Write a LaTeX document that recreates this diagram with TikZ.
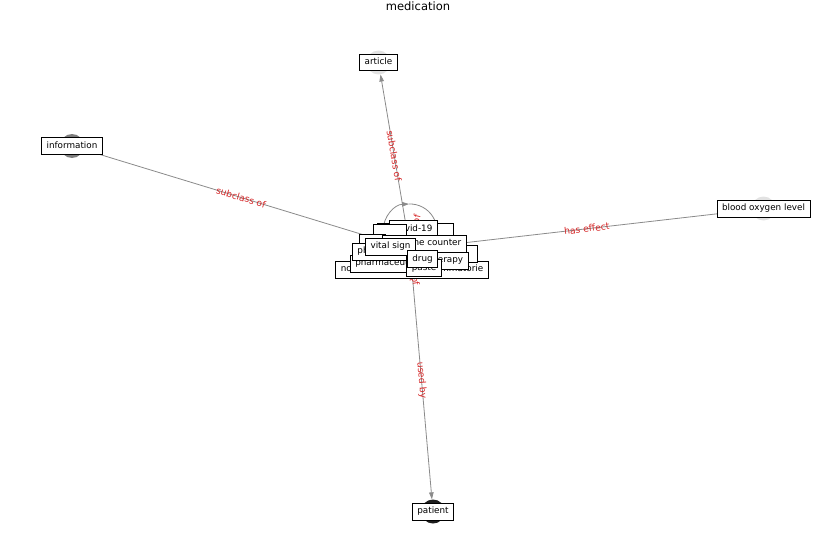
\documentclass[tikz,border=0pt]{standalone}
\usepackage{fontspec}
\setmainfont{DejaVu Sans}
\usetikzlibrary{arrows.meta}

\definecolor{edgegray}{RGB}{138,138,138}
\definecolor{lblred}{RGB}{214,39,40}
\definecolor{dotlight}{RGB}{226,226,226}
\definecolor{dotmid}{RGB}{125,125,125}
\definecolor{dotdark}{RGB}{28,28,28}

\tikzset{
  lbox/.style={draw=black, fill=white, line width=0.8pt, inner xsep=5pt, inner ysep=4pt,
    text height=6.8pt, text depth=2pt, font=\fontsize{8.8}{10}\selectfont},
  dot/.style={circle, inner sep=0pt, minimum size=24pt},
  rel/.style={draw=edgegray, line width=0.8pt, -{Triangle[length=7pt,width=4.5pt]}},
  rellabel/.style={text=lblred, font=\fontsize{9.2}{10}\selectfont, sloped, inner sep=1pt},
  fragment/.style={text=lblred, font=\fontsize{9.2}{10}\selectfont}
}

\begin{document}
\begin{tikzpicture}[x=1pt, y=-1pt]
	\useasboundingbox (0,0) rectangle (837,559);

	\node (title) at (418,6) {\fontsize{11.5}{13}\selectfont medication};

	% node circles
	\node[dot] (meddot) at (410,249) {};
	\node[dot, fill=dotmid] (infodot) at (72,146) {};
	\node[dot, fill=dotlight] (artdot) at (378.5,62.5) {};
	\node[dot, fill=dotlight] (bloodot) at (763.5,208.5) {};
	\node[dot, fill=dotdark] (patdot) at (433,511.5) {};

	% edges
	\draw[rel] (meddot) -- node[rellabel] {subclass of} (artdot);
	\draw[rel] (meddot) -- node[rellabel] {subclass of} (infodot);
	\draw[rel] (meddot) -- node[rellabel] {has effect} (bloodot);
	\draw[rel] (meddot) -- node[rellabel] {used by} (patdot);
	\draw[rel] ([shift={(-27,-18)}]meddot.center) arc[start angle=180, end angle=268, radius=27];
	\draw[edgegray, line width=0.8pt] ([shift={(-1,-45)}]meddot.center) arc[start angle=268, end angle=360, radius=27];

	\node[fragment, rotate=78] (fragA) at (412,240) {subclass of};
	\node[fragment, rotate=-60] (fragB) at (401,258) {subclass of};
	\node[fragment, rotate=-80] (fragC) at (412,260) {subclass of};

	% outer labels
	\node[lbox] (information) at (72,146) {information};
	\node[lbox] (article) at (378.5,62.5) {article};
	\node[lbox] (blood) at (763.5,208.5) {blood oxygen level};
	\node[lbox] (patient) at (433,511.5) {patient};

	% the heap in the middle
	\node[lbox] (nsaid) at (412,269.5) {non-steroidal anti-inflammatorie};
	\node[lbox, minimum width=76pt] (ghostA) at (415,231.5) {};
	\node[lbox] (covid) at (413.5,229) {covid-19};
	\node[lbox, minimum width=33pt] (ghostB) at (389.5,233) {};
	\node[lbox, minimum width=26pt] (ghostC) at (372,242.5) {};
	\node[lbox] (medication) at (410,249) {medication};
	\node[lbox, minimum width=47pt] (ghostD) at (453.5,253.5) {};
	\foreach \nm/\x/\y/\txt in {otc/424.5/243.5/over the counter,
	                            pharmaceutical/389.5/263.5/pharmaceutical,
	                            pharmacy/379.5/251.5/pharmacy,
	                            vital/390.5/246.5/vital sign,
	                            therapy/446/260.5/therapy,
	                            paste/424/268/paste,
	                            drug/422.5/259/drug}
	{
		\node[lbox] (\nm) at (\x,\y) {\txt};
	}
\end{tikzpicture}
\end{document}
